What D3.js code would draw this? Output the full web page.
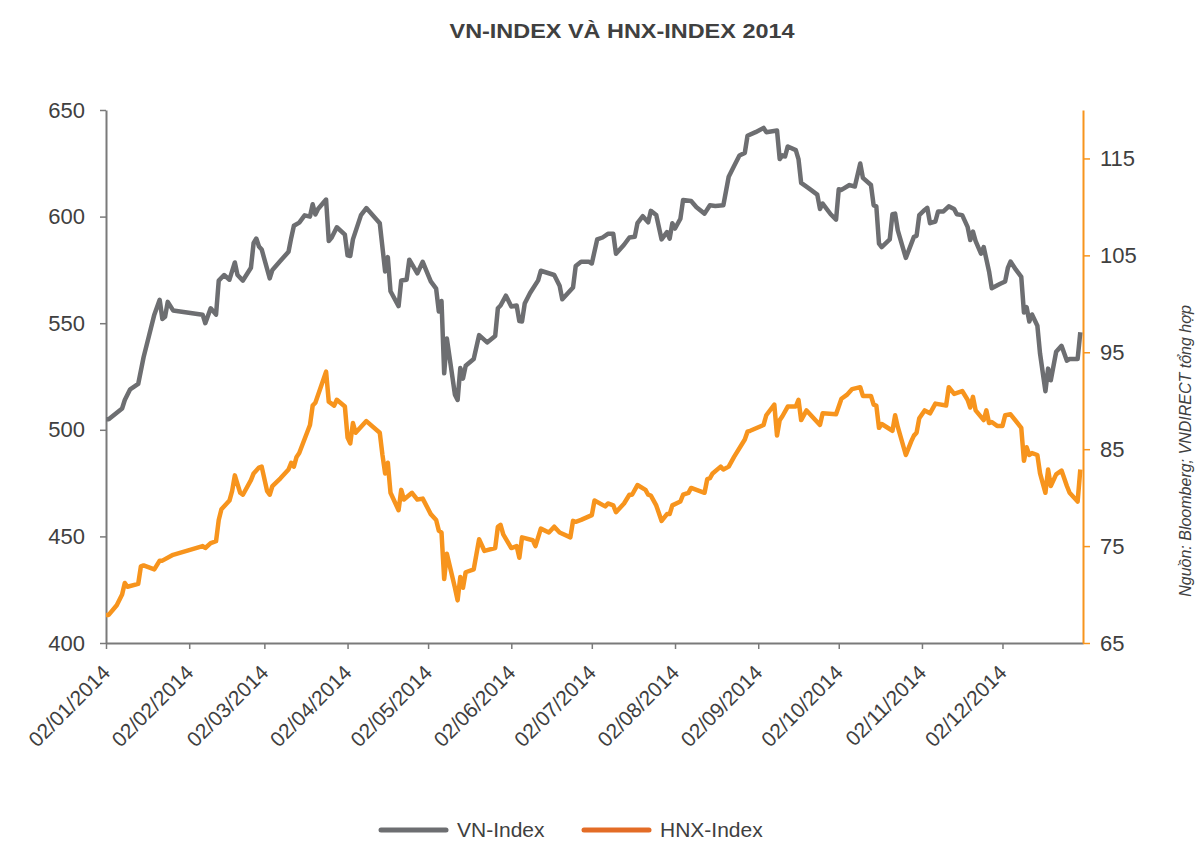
<!DOCTYPE html>
<html>
<head>
<meta charset="utf-8">
<script src="https://cdn.jsdelivr.net/npm/d3@7"></script>
<style>
  body { margin: 0; background: #fff; }
  text { font-family: "Liberation Sans", Arial, sans-serif; fill: #404040; }
</style>
</head>
<body>
<div id="chart"></div>
<script>
// day of year 2014 (2 = 02/01/2014) and closing values
const vnDays = [
  2, 3, 8, 9, 11, 14, 16, 18, 20, 22,
  23, 24, 25, 27, 38, 39, 41, 43, 44, 46,
  48, 50, 51, 53, 56, 57, 58, 59, 60, 63,
  64, 67, 70, 71, 72, 74, 76, 78, 79, 80,
  81, 84, 85, 86, 88, 91, 92, 93, 94, 97,
  99, 104, 106, 107, 108, 111, 112, 114, 115, 118,
  120, 123, 125, 126, 127, 128, 129, 132, 133, 134,
  135, 136, 139, 141, 144, 147, 148, 149, 151, 153,
  155, 156, 157, 158, 160, 163, 164, 169, 171, 172,
  176, 177, 179, 182, 183, 185, 187, 189, 191, 192,
  195, 197, 199, 200, 202, 204, 205, 207, 209, 211,
  212, 213, 214, 216, 217, 220, 222, 225, 227, 229,
  232, 234, 236, 238, 240, 241, 244, 247, 248, 252,
  253, 254, 255, 256, 259, 260, 261, 264, 267, 268,
  269, 272, 274, 275, 276, 279, 281, 283, 284, 287,
  288, 289, 290, 291, 294, 295, 296, 297, 300, 303,
  304, 305, 307, 308, 309, 311, 312, 314, 316, 318,
  319, 321, 323, 324, 325, 326, 328, 329, 331, 332,
  335, 337, 338, 339, 341, 343, 344, 345, 346, 347,
  349, 350, 352, 353, 354, 356, 358, 360, 361, 364,
  365
];
const vnValues = [
  505, 505, 510, 514, 519, 521.5, 534, 544, 554, 561,
  552, 553, 560, 556, 554, 550, 557, 554, 570, 572.6,
  570.4, 578.5, 572.6, 570, 576, 587.7, 589.7, 586, 584.6, 571,
  575, 579.3, 583.5, 590, 595.7, 597.2, 600.6, 600, 605.8, 601,
  603.6, 608, 588.5, 590, 595, 591.5, 581.8, 581.5, 589.3, 600.7,
  604, 596.9, 574.3, 581, 565, 558, 570, 570.4, 579.8, 573.4,
  578.8, 569.6, 566.2, 555.5, 560.4, 526.5, 542.8, 516.5, 514, 529,
  524, 530, 533.2, 544.4, 541, 544, 557, 558.3, 562.9, 557.8,
  558.3, 551, 550.8, 559.2, 564.2, 570.1, 574.6, 572.6, 567.6, 561.2,
  566.7, 576.8, 578.8, 578.8, 578, 589.3, 590.2, 591.9, 591.9, 582.6,
  586.8, 590.2, 590.5, 596.9, 600.2, 597.3, 602.7, 600.7, 589.3, 592.7,
  589.7, 596.9, 594.4, 599, 607.8, 607.3, 604.4, 601.4, 605.3, 605,
  605.3, 618.7, 623.7, 628.7, 629.9, 637.9, 639.6, 641.6, 639.6, 640.4,
  627, 628.7, 628.2, 632.9, 631.2, 627, 615.8, 613.1, 610.3, 603.6,
  606.1, 601.1, 598.6, 612.8, 612.5, 614.8, 614.1, 624.9, 618.2, 614.8,
  605.3, 604.8, 587.3, 585.7, 589.3, 601.1, 601.4, 593.5, 580.6, 590.5,
  591, 600.7, 603.1, 604.1, 596.9, 597.7, 602.4, 602.4, 604.8, 603.6,
  601.1, 600.7, 595.2, 589, 593, 588.5, 582.6, 585.7, 574.3, 566.4,
  568.4, 569.6, 575.9, 578.9, 575.1, 571.7, 555, 557.5, 550.8, 554.1,
  548.8, 535.7, 518.1, 528.7, 523.2, 536.6, 539.4, 532.4, 533.2, 533.2,
  545.8
];

const hnxDays = [
  2, 3, 6, 8, 9, 10, 14, 15, 16, 20,
  22, 23, 27, 38, 39, 41, 43, 44, 45, 48,
  49, 50, 52, 53, 56, 57, 59, 60, 62, 63,
  64, 67, 70, 71, 72, 73, 74, 78, 79, 80,
  84, 85, 87, 88, 91, 92, 93, 94, 95, 99,
  104, 105, 106, 107, 108, 111, 112, 113, 116, 118,
  120, 123, 125, 126, 127, 128, 129, 132, 133, 134,
  135, 136, 139, 141, 143, 147, 148, 149, 150, 153,
  155, 156, 157, 161, 162, 164, 167, 169, 171, 175,
  176, 177, 179, 183, 184, 188, 189, 191, 192, 195,
  197, 198, 200, 203, 204, 205, 207, 209, 211, 212,
  213, 216, 217, 219, 220, 225, 226, 227, 228, 231,
  232, 234, 236, 240, 241, 242, 247, 248, 251, 252,
  253, 254, 256, 259, 260, 261, 263, 268, 269, 274,
  276, 278, 280, 283, 284, 287, 288, 289, 290, 291,
  295, 296, 297, 300, 302, 303, 304, 305, 307, 309,
  311, 315, 316, 318, 321, 323, 324, 325, 326, 329,
  330, 331, 332, 334, 336, 337, 339, 343, 344, 345,
  346, 347, 349, 350, 352, 353, 354, 356, 358, 360,
  361, 364, 365
];
const hnxValues = [
  67.9, 67.9, 68.9, 70.0, 71.2, 70.8, 71.1, 72.9, 73.0, 72.6,
  73.5, 73.5, 74.1, 75.0, 74.8, 75.3, 75.5, 77.7, 78.8, 79.7,
  80.7, 82.3, 80.5, 80.3, 81.8, 82.5, 83.1, 83.2, 80.7, 80.3,
  81.2, 82.0, 82.9, 83.6, 83.2, 84.2, 84.6, 87.5, 89.5, 89.8,
  93.0, 89.9, 89.5, 90.1, 89.4, 86.2, 85.6, 87.7, 86.7, 87.9,
  86.7, 84.4, 82.5, 83.6, 80.5, 78.7, 80.8, 79.8, 80.5, 79.8,
  79.9, 78.3, 77.7, 76.6, 76.4, 71.6, 74.2, 70.7, 69.4, 71.8,
  70.7, 72.3, 72.6, 75.7, 74.5, 74.8, 77.0, 77.2, 76.2, 74.8,
  75.0, 73.8, 75.9, 75.6, 75.0, 76.8, 76.4, 77.0, 76.4, 75.9,
  77.6, 77.5, 77.7, 78.2, 79.7, 79.1, 79.4, 79.2, 78.5, 79.4,
  80.3, 80.3, 81.3, 80.8, 80.3, 80.2, 79.2, 77.6, 78.3, 78.3,
  79.2, 79.6, 80.3, 80.5, 81.0, 80.5, 81.9, 82.0, 82.5, 83.2,
  82.9, 83.2, 84.2, 86.0, 86.8, 86.9, 87.5, 88.5, 89.6, 86.4,
  88.0, 88.4, 89.4, 89.4, 90.1, 88.0, 89.0, 87.5, 88.7, 88.6,
  90.2, 90.6, 91.2, 91.4, 90.5, 90.5, 89.6, 89.5, 87.2, 87.6,
  86.9, 88.5, 87.3, 84.4, 85.8, 86.4, 86.7, 88.2, 89.0, 88.7,
  89.7, 89.5, 91.4, 90.7, 91.0, 90.1, 89.3, 90.4, 89.0, 88.0,
  89.0, 87.7, 87.8, 87.4, 87.4, 88.5, 88.6, 87.2, 83.8, 85.2,
  84.4, 84.6, 84.4, 82.5, 80.5, 82.9, 81.2, 82.4, 82.8, 81.2,
  80.5, 79.6, 82.9
];

const xTickLabels = ["02/01/2014", "02/02/2014", "02/03/2014", "02/04/2014", "02/05/2014", "02/06/2014",
  "02/07/2014", "02/08/2014", "02/09/2014", "02/10/2014", "02/11/2014", "02/12/2014"];
const leftTicks = [400, 450, 500, 550, 600, 650];
const rightTicks = [65, 75, 85, 95, 105, 115];
const seriesNames = ["VN-Index", "HNX-Index"];

const grey = "#6d6e71", orange = "#f7941d", legendOrange = "#e36c26";

const svg = d3.select("#chart").append("svg")
    .attr("width", 1199)
    .attr("height", 841);

const parse = d3.timeParse("%d/%m/%Y");
const dayToDate = d => new Date(2014, 0, d);

const x = d3.scaleTime()
    .domain([new Date(2014, 0, 2), new Date(2015, 0, 1)])
    .range([106, 1083]);
const yLeft = d3.scaleLinear().domain([400, 650]).range([643, 110]);
const yRight = d3.scaleLinear().domain([65, 120]).range([643, 110]);

// Title
svg.append("text")
    .attr("x", 622)
    .attr("y", 38)
    .attr("text-anchor", "middle")
    .attr("font-size", 21)
    .attr("font-weight", "bold")
    .attr("textLength", 345)
    .attr("lengthAdjust", "spacingAndGlyphs")
    .text("VN-INDEX VÀ HNX-INDEX 2014");

// Left axis
const gLeft = svg.append("g")
    .attr("transform", "translate(106,0)")
    .call(d3.axisLeft(yLeft).tickValues(leftTicks).tickSize(6).tickSizeOuter(0).tickPadding(15));
gLeft.selectAll("text").attr("font-size", 22).style("fill", "#404040");

// Bottom axis
const gBottom = svg.append("g")
    .attr("transform", "translate(0,643)")
    .call(d3.axisBottom(x).tickValues(xTickLabels.map(parse)).tickSize(6).tickSizeOuter(0)
        .tickFormat(d3.timeFormat("%d/%m/%Y")));
gBottom.selectAll("text")
    .attr("font-size", 21)
    .attr("x", 0).attr("y", 0).attr("dy", 0)
    .attr("text-anchor", "end")
    .attr("transform", "translate(5,31) rotate(-45)")
    .style("fill", "#404040");

[gLeft, gBottom].forEach(g => {
  g.select(".domain").attr("stroke", "#7a7a7a").attr("stroke-width", 2);
  g.selectAll(".tick line").attr("stroke", "#7a7a7a").attr("stroke-width", 1.5);
});

// Right axis
const gRight = svg.append("g")
    .attr("transform", "translate(1083,0)")
    .call(d3.axisRight(yRight).tickValues(rightTicks).tickSize(7).tickSizeOuter(0).tickPadding(10));
gRight.selectAll("text").attr("font-size", 22).style("fill", "#404040");
gRight.select(".domain").attr("stroke", orange).attr("stroke-width", 2);
gRight.selectAll(".tick line").attr("stroke", orange).attr("stroke-width", 1.5);

// Lines
const vnData = vnDays.map((d, i) => ({ date: dayToDate(d), value: vnValues[i] }));
const hnxData = hnxDays.map((d, i) => ({ date: dayToDate(d), value: hnxValues[i] }));

svg.append("path")
    .datum(hnxData)
    .attr("fill", "none")
    .attr("stroke", orange)
    .attr("stroke-width", 4.5)
    .attr("stroke-linejoin", "round")
    .attr("d", d3.line().x(d => x(d.date)).y(d => yRight(d.value)));

svg.append("path")
    .datum(vnData)
    .attr("fill", "none")
    .attr("stroke", grey)
    .attr("stroke-width", 4.5)
    .attr("stroke-linejoin", "round")
    .attr("d", d3.line().x(d => x(d.date)).y(d => yLeft(d.value)));

// Source note
svg.append("text")
    .attr("transform", "translate(1191,451) rotate(-90)")
    .attr("text-anchor", "middle")
    .attr("font-size", 16)
    .attr("font-style", "italic")
    .text("Nguồn: Bloomberg; VNDIRECT tổng hợp");

// Legend
const legend = svg.append("g");
const legendX = [381, 584];
const legendColors = [grey, legendOrange];
seriesNames.forEach((name, i) => {
  legend.append("line")
      .attr("x1", legendX[i]).attr("x2", legendX[i] + 65)
      .attr("y1", 830).attr("y2", 830)
      .attr("stroke", legendColors[i])
      .attr("stroke-width", 5)
      .attr("stroke-linecap", "round");
  legend.append("text")
      .attr("x", legendX[i] + 76)
      .attr("y", 830)
      .attr("dy", "0.35em")
      .attr("font-size", 21)
      .text(name);
});
</script>
</body>
</html>
